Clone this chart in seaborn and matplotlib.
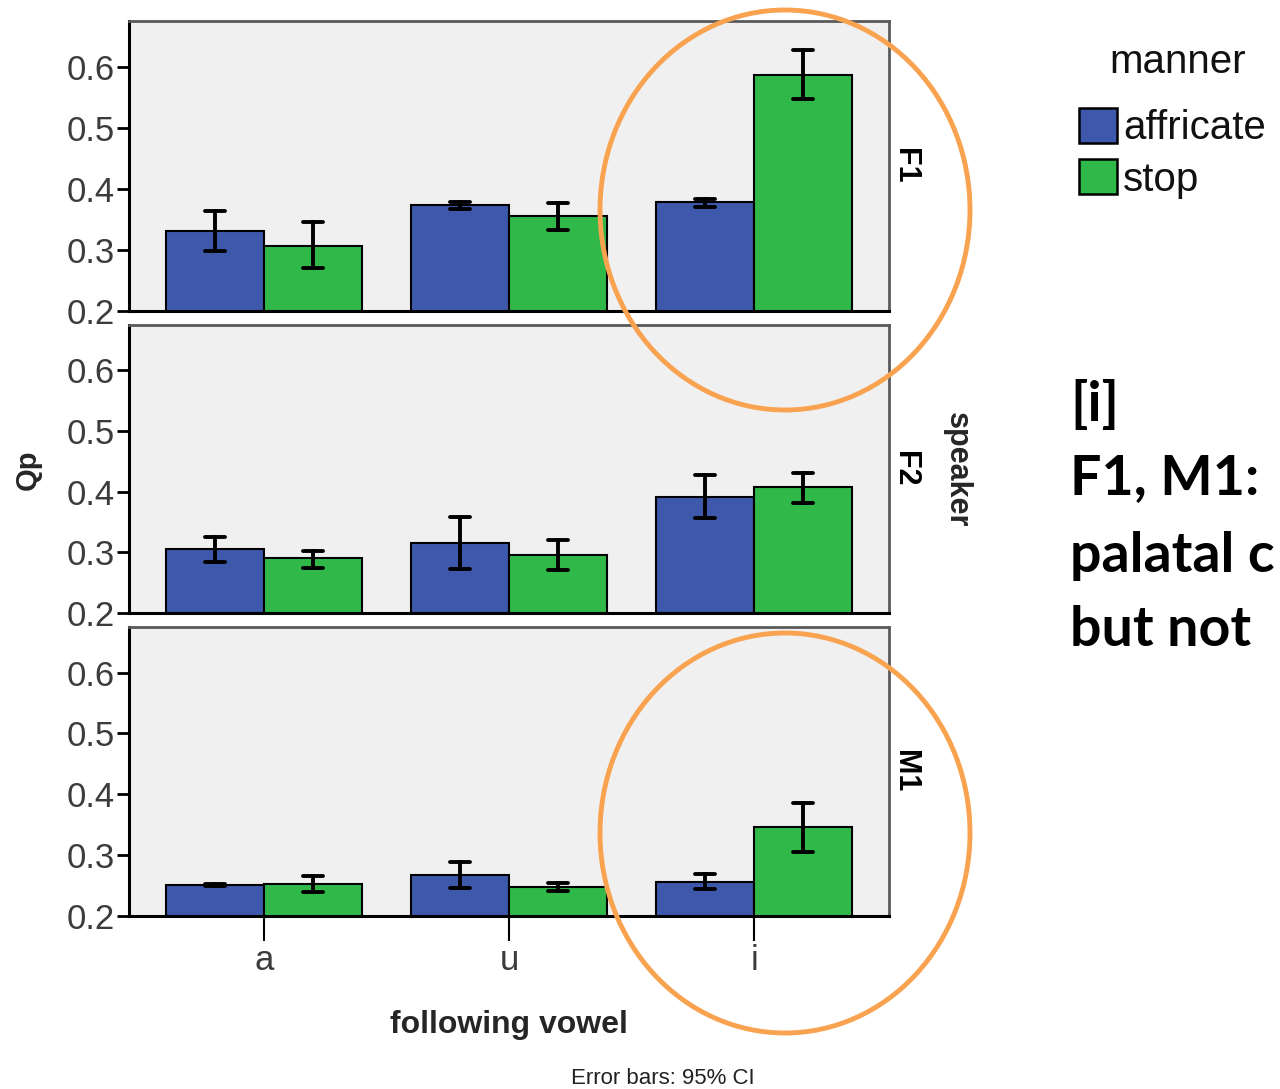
import numpy as np
import pandas as pd
import matplotlib
matplotlib.use("Agg")
import matplotlib.pyplot as plt
import seaborn as sns
from matplotlib.patches import Patch, Ellipse

# ---------------- data ----------------
speakers = ["F1", "F2", "M1"]
vowels = ["a", "u", "i"]
manners = ["affricate", "stop"]

# rows: speakers F1, F2, M1 ; columns: vowels a, u, i
affricate_mean = [[0.331, 0.374, 0.378], [0.305, 0.316, 0.392], [0.251, 0.268, 0.256]]
affricate_lo = [[0.298, 0.367, 0.371], [0.284, 0.273, 0.356], [0.249, 0.246, 0.244]]
affricate_hi = [[0.364, 0.378, 0.384], [0.326, 0.359, 0.428], [0.252, 0.288, 0.269]]
stop_mean = [[0.307, 0.355, 0.587], [0.290, 0.296, 0.407], [0.252, 0.248, 0.346]]
stop_lo = [[0.271, 0.332, 0.548], [0.275, 0.271, 0.382], [0.239, 0.241, 0.305]]
stop_hi = [[0.345, 0.377, 0.628], [0.303, 0.321, 0.431], [0.266, 0.254, 0.386]]

ytick_values = [0.2, 0.3, 0.4, 0.5, 0.6]
ytick_labels = ["0.2", "0.3", "0.4", "0.5", "0.6"]

colors = {"affricate": "#3e58ab", "stop": "#30b848"}

rows = []
for si, sp in enumerate(speakers):
    for vi, v in enumerate(vowels):
        for m, lo, me, hi in (("affricate", affricate_lo, affricate_mean, affricate_hi),
                              ("stop", stop_lo, stop_mean, stop_hi)):
            for val in (lo[si][vi], me[si][vi], hi[si][vi]):
                rows.append({"speaker": sp, "vowel": v, "manner": m, "Qp": val})
df = pd.DataFrame(rows)

# ---------------- figure ----------------
sns.set_style("white")
plt.rcParams["font.family"] = ["Liberation Sans", "DejaVu Sans"]

W, H = 1280, 1089
fig = plt.figure(figsize=(W / 100, H / 100), dpi=100)

panel_px = [(21, 311), (325, 613), (627, 916)]
left_px, right_px = 129, 889

axes = []
for i, (sp, (top, bot)) in enumerate(zip(speakers, panel_px)):
    ax = fig.add_axes([left_px / W, 1 - bot / H, (right_px - left_px) / W, (bot - top) / H])
    ax.set_facecolor("#f0f0f0")
    sub = df[df["speaker"] == sp]
    sns.barplot(data=sub, x="vowel", y="Qp", hue="manner", order=vowels, hue_order=manners,
                palette=colors, saturation=1, estimator="median",
                errorbar=lambda v: (v.min(), v.max()), capsize=0.16,
                err_kws={"color": "black", "linewidth": 2.8},
                edgecolor="black", linewidth=1.5, legend=False, ax=ax)
    ax.set_xlim(-0.55, 2.55)
    ax.set_ylim(0.2, 0.675)
    ax.set_yticks(ytick_values)
    ax.set_yticklabels(ytick_labels)
    ax.set_xlabel("")
    ax.set_ylabel("")
    ax.tick_params(axis="y", direction="out", length=9, width=2, color="black",
                   labelsize=25, labelcolor="#3c3c3c", pad=1, left=True)
    for s in ("left", "bottom"):
        ax.spines[s].set_color("black")
        ax.spines[s].set_linewidth(2.2)
    for s in ("top", "right"):
        ax.spines[s].set_color("#5a5a5a")
        ax.spines[s].set_linewidth(2)
    if i < 2:
        ax.tick_params(axis="x", bottom=False, labelbottom=False)
    else:
        ax.tick_params(axis="x", direction="out", length=18, width=1.5, color="black",
                       labelsize=25, labelcolor="#3c3c3c", pad=2, bottom=True)
    axes.append(ax)
    # facet label
    fig.text(905 / W, 1 - ((top + bot) / 2) / H, sp, rotation=-90, ha="center", va="center",
             fontsize=22, fontweight="bold", color="black")

# axis titles
fig.text(28 / W, 1 - 470 / H, "Qp", rotation=90, ha="center", va="center",
         fontsize=21, fontweight="bold")
fig.text(957 / W, 1 - 470 / H, "speaker", rotation=-90, ha="center", va="center",
         fontsize=22, fontweight="bold")
fig.text(509 / W, 1 - 1025 / H, "following vowel", ha="center", va="center",
         fontsize=23, fontweight="bold")
fig.text(663 / W, 1 - 1078 / H, "Error bars: 95% CI", ha="center", va="center",
         fontsize=16, color="#222222")

# legend
fig.text(1178 / W, 1 - 62 / H, "manner", ha="center", va="center", fontsize=29, color="#111111")
handles = [Patch(facecolor=colors[m], edgecolor="black", linewidth=1.8, label=m) for m in manners]
leg = fig.legend(handles=handles, loc="upper left",
                 bbox_to_anchor=(1079 / W, 1 - 108 / H), frameon=False,
                 fontsize=29, handlelength=0.95, handleheight=0.95,
                 handletextpad=0.15, labelspacing=0.3, borderaxespad=0, borderpad=0)
for t in leg.get_texts():
    t.set_color("#111111")

# annotation text
ann_font = ["Lato", "DejaVu Sans"]
for txt, y in (("[i]", 405), ("F1, M1:", 478), ("palatal c", 556), ("but not", 630)):
    fig.text(1070 / W, 1 - y / H, txt, ha="left", va="center", fontsize=40,
             fontweight="bold", family=ann_font, color="black")

# orange highlight ellipses
for cy in (210, 833):
    e = Ellipse((785 / W, 1 - cy / H), 370 / W, 400 / H, transform=fig.transFigure,
                fill=False, edgecolor="#f9a24f", linewidth=3.5, zorder=10)
    fig.add_artist(e)

fig.savefig("out.png", dpi=100)
